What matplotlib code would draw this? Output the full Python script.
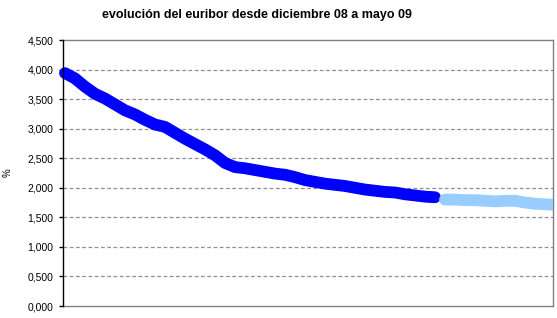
import matplotlib.pyplot as plt
import matplotlib.ticker as mticker
import numpy as np

plt.rcParams['font.family'] = ['Liberation Sans', 'DejaVu Sans']

# Euribor, tramo diciembre 08 - abril 09 (azul oscuro) y mayo 09 (azul claro)
euribor_oscuro = [3.94, 3.85, 3.71, 3.59, 3.51, 3.41, 3.31, 3.24, 3.15, 3.07,
                  3.03, 2.93, 2.83, 2.74, 2.65, 2.55, 2.42, 2.35, 2.33, 2.30,
                  2.27, 2.24, 2.22, 2.18, 2.13, 2.10, 2.07, 2.05, 2.03, 2.00,
                  1.97, 1.95, 1.93, 1.92, 1.89, 1.87, 1.85, 1.84]
euribor_claro = [1.80, 1.80, 1.79, 1.79, 1.78, 1.77, 1.78, 1.78, 1.75, 1.73,
                 1.72, 1.71]
yticks = np.arange(0, 4.51, 0.5)

x_osc = np.arange(len(euribor_oscuro))
x_cla = np.arange(len(euribor_claro)) + len(euribor_oscuro)

fig = plt.figure(figsize=(5.57, 3.18), dpi=100)
ax = fig.add_axes([63/557, 12/318, 490/557, 266/318])

ax.plot(x_osc, euribor_oscuro, color="#0000FF", lw=8.5,
        solid_capstyle="round", solid_joinstyle="round", zorder=3, clip_on=False)
ax.plot(x_cla, euribor_claro, color="#99CCFF", lw=8.5,
        solid_capstyle="round", solid_joinstyle="round", zorder=3)

ax.set_xlim(-0.2, 48.8)
ax.set_ylim(0, 4.5)
ax.set_yticks(yticks)
ax.yaxis.set_major_formatter(mticker.FuncFormatter(lambda v, p: f"{v:.3f}".replace(".", ",")))
ax.set_xticks([])
ax.tick_params(axis="y", length=3, width=1, pad=4, labelsize=7.5, colors="black")

for v in yticks[1:-1]:
    ax.axhline(v, color="#909090", lw=0.9, ls=(0, (3, 2)), zorder=1)

for s in ["top", "right", "bottom"]:
    ax.spines[s].set_color("#808080")
    ax.spines[s].set_linewidth(1)
ax.spines["left"].set_color("black")
ax.spines["left"].set_linewidth(1)
ax.spines["left"].set_zorder(4)

fig.text(257/557, 1 - 15/318, "evolución del euribor desde diciembre 08 a mayo 09",
         ha="center", va="center", fontsize=9, fontweight="bold")
fig.text(8/557, 1 - 173/318, "%", rotation=90, ha="center", va="center", fontsize=7)

fig.savefig("out.png", dpi=100)
